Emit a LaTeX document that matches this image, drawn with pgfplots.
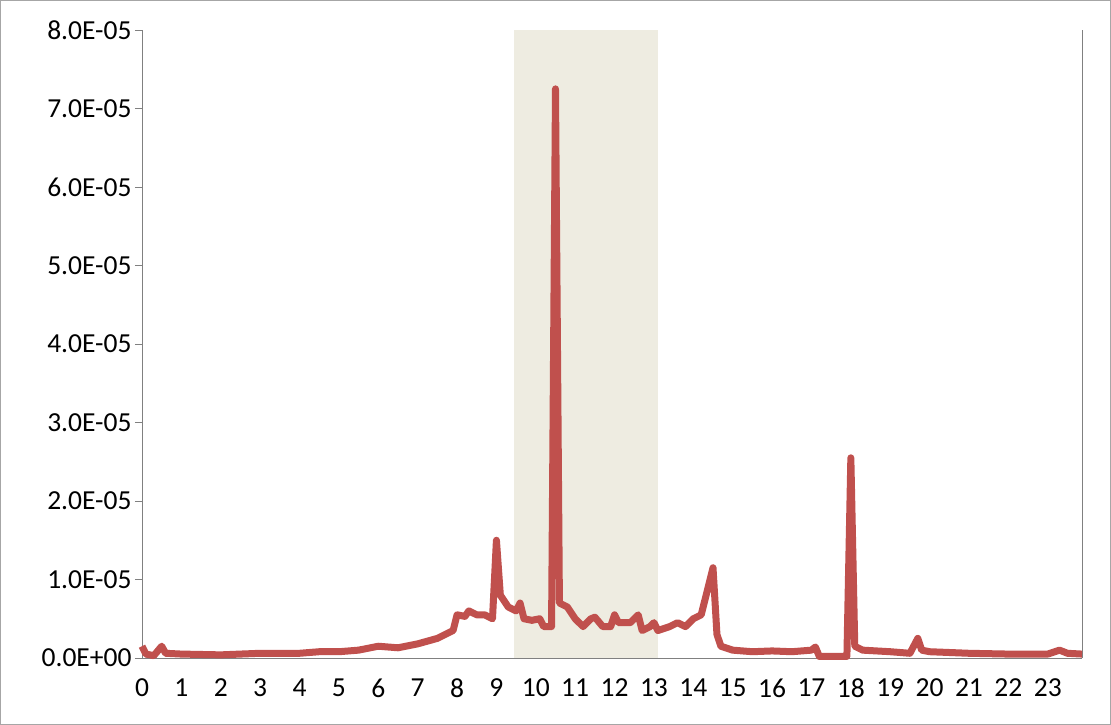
\documentclass[border=0pt]{standalone}
\usepackage{pgfplots}
\pgfplotsset{compat=1.18}
\usepackage{fontspec}
\setmainfont{Carlito}
\definecolor{ln}{RGB}{192,80,77}
\definecolor{sh}{RGB}{238,236,225}
\begin{document}
\begin{tikzpicture}[x=1pt,y=1pt]
\path[use as bounding box] (-142,-67) rectangle (969,658);
\draw[gray!70,line width=1pt] (-141.5,-66.5) rectangle (968.5,657.5);
\begin{axis}[at={(0,0)},anchor=south west,scale only axis,width=940pt,height=628pt,
 xmin=0,xmax=23.87,ymin=0,ymax=8e-5,
 axis x line*=bottom, axis y line*=left,
 xtick={0,...,23}, ytick={0,1e-5,2e-5,3e-5,4e-5,5e-5,6e-5,7e-5,8e-5},
 yticklabels={0.0E+00,1.0E-05,2.0E-05,3.0E-05,4.0E-05,5.0E-05,6.0E-05,7.0E-05,8.0E-05},
 scaled y ticks=false, tick style={gray,line width=0.8pt}, xtick style={draw=none},
 y tick label style={font=\fontsize{27.5}{30}\selectfont},
 x tick label style={font=\fontsize{27.5}{30}\selectfont,yshift=-10pt},
 tick align=outside, major tick length=7pt,
 axis line style={gray,line width=0.8pt},
 /pgf/number format/assume math mode=true, clip=false]
\fill[sh] (axis cs:9.45,0) rectangle (axis cs:13.1,8e-5);
\draw[gray,line width=0.8pt] (axis cs:23.87,0) -- (axis cs:23.87,8e-5);
\addplot[ln,line width=7pt,line join=round,no marks] table[y expr=\thisrowno{1}*1e-6] {
0 1.5
0.1 0.5
0.3 0.3
0.5 1.5
0.6 0.6
1 0.5
2 0.4
3 0.6
4 0.6
4.5 0.8
5 0.8
5.5 1.0
6 1.5
6.5 1.3
7 1.8
7.5 2.5
7.9 3.5
8 5.5
8.2 5.3
8.3 6
8.5 5.5
8.7 5.5
8.9 5
9 15
9.1 8
9.3 6.5
9.5 6
9.6 7
9.7 5
9.9 4.8
10.1 5
10.2 4
10.4 4
10.5 72.5
10.6 7
10.8 6.5
11 5
11.2 4
11.4 5
11.5 5.2
11.7 4
11.9 4
12 5.5
12.1 4.5
12.4 4.5
12.6 5.5
12.7 3.5
12.9 4
13 4.5
13.1 3.5
13.4 4
13.6 4.5
13.8 4
14 5
14.2 5.5
14.5 11.5
14.6 3
14.7 1.5
15 1
15.5 0.8
16 0.9
16.5 0.8
17 1
17.1 1.4
17.2 0.2
17.9 0.2
18 25.5
18.1 1.5
18.3 1
19 0.8
19.5 0.6
19.7 2.5
19.8 1.0
20 0.8
21 0.6
22 0.5
23 0.5
23.3 1
23.5 0.6
23.87 0.5
};
\end{axis}
\end{tikzpicture}
\end{document}
